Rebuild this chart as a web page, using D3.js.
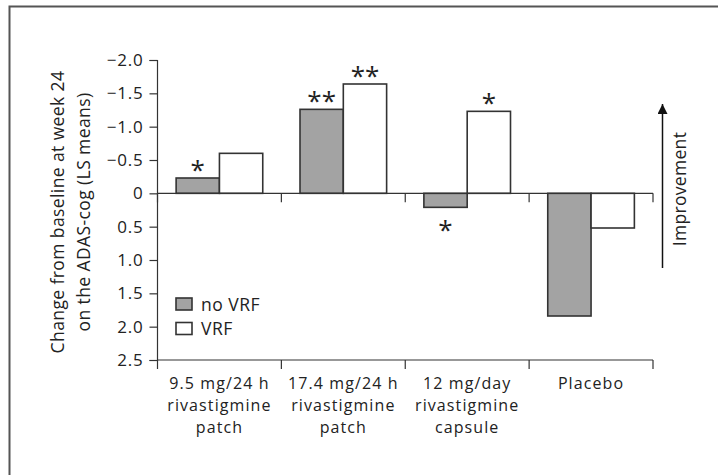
<!DOCTYPE html>
<html>
<head>
<meta charset="utf-8">
<script src="https://cdn.jsdelivr.net/npm/d3@7"></script>
<style>
  html, body { margin: 0; padding: 0; background: #fff; }
  svg { display: block; }
  text { font-family: "Open Sans", "Noto Sans", sans-serif; fill: #222; }
</style>
</head>
<body>
<svg id="chart" width="718" height="475"></svg>
<script>
// ---- data ----
const categories = ["9.5 mg/24 h|rivastigmine|patch", "17.4 mg/24 h|rivastigmine|patch", "12 mg/day|rivastigmine|capsule", "Placebo"];
const seriesNames = ["no VRF", "VRF"];
const noVRF = [-0.23, -1.26, 0.21, 1.84];
const VRF = [-0.60, -1.64, -1.23, 0.52];
const yTicks = [-2.0, -1.5, -1.0, -0.5, 0, 0.5, 1.0, 1.5, 2.0, 2.5];
const yTickLabels = ["\u22122.0", "\u22121.5", "\u22121.0", "\u22120.5", "0", "0.5", "1.0", "1.5", "2.0", "2.5"];
const sigLabels = [
  { cat: 0, series: "no VRF", label: "*" },
  { cat: 1, series: "no VRF", label: "**" },
  { cat: 1, series: "VRF", label: "**" },
  { cat: 2, series: "no VRF", label: "*" },
  { cat: 2, series: "VRF", label: "*" }
];
const yTitle = ["Change from baseline at week 24", "on the ADAS-cog (LS means)"];
const arrowLabel = "Improvement";

// ---- layout ----
const svg = d3.select("#chart");
const colors = { "no VRF": "#a3a3a3", "VRF": "#ffffff" };
const values = { "no VRF": noVRF, "VRF": VRF };
const FS = "17.5px", LS = "0.5px";

// frame
svg.append("path")
  .attr("d", "M9.5,476 L9.5,6.5 L720,6.5")
  .attr("fill", "none").attr("stroke", "#555").attr("stroke-width", 2);

const x0 = d3.scaleBand().domain(d3.range(categories.length)).range([157.5, 653]).paddingInner(0).paddingOuter(0);
const x1 = d3.scaleBand().domain(seriesNames).range([0, x0.bandwidth()]).paddingInner(0).paddingOuter(0.43);
const y = d3.scaleLinear().domain([-2, 2.5]).range([60, 360]);

const axisColor = "#333";

// bars
const g = svg.append("g");
categories.forEach((c, i) => {
  seriesNames.forEach(s => {
    const v = values[s][i];
    g.append("rect")
      .attr("x", x0(i) + x1(s))
      .attr("width", x1.bandwidth())
      .attr("y", Math.min(y(v), y(0)))
      .attr("height", Math.abs(y(v) - y(0)))
      .attr("fill", colors[s])
      .attr("stroke", "#333")
      .attr("stroke-width", 1.6);
  });
});

// y axis
const yAxis = d3.axisLeft(y).tickValues(yTicks).tickSize(8).tickPadding(6)
  .tickFormat((d, i) => yTickLabels[i]);
const ya = svg.append("g").attr("transform", "translate(157.5,0)").call(yAxis);
ya.select(".domain").attr("stroke", axisColor).attr("stroke-width", 1.2).attr("d", "M-8,60.5H0V360.5H-8");
ya.selectAll(".tick line").attr("stroke", axisColor).attr("stroke-width", 1.2);
ya.selectAll(".tick text").style("font-size", "17px").style("letter-spacing", "0.8px")
  .style("font-family", "'Open Sans', sans-serif").attr("fill", "#222");

// bottom axis and zero line with category boundary ticks
const bounds = d3.range(categories.length + 1).map(i => i < categories.length ? x0(i) : x0.range()[1]);
[y(2.5), y(0)].forEach(yy => {
  svg.append("line").attr("x1", 157.5).attr("x2", x0.range()[1]).attr("y1", yy).attr("y2", yy)
    .attr("stroke", axisColor).attr("stroke-width", 1.2);
  bounds.forEach(bx => {
    svg.append("line").attr("x1", bx).attr("x2", bx).attr("y1", yy).attr("y2", yy + 9)
      .attr("stroke", axisColor).attr("stroke-width", 1.2);
  });
});

// category labels
categories.forEach((c, i) => {
  const lines = c.split("|");
  lines.forEach((ln, j) => {
    svg.append("text").attr("text-anchor", "middle")
      .style("font-size", "16px").style("letter-spacing", "1.1px")
      .attr("x", x0(i) + x0.bandwidth() / 2).attr("y", 388.5 + j * 22).text(ln);
  });
});

// significance asterisks
sigLabels.forEach(a => {
  const v = values[a.series][a.cat];
  const cx = x0(a.cat) + x1(a.series) + x1.bandwidth() / 2;
  const above = v <= 0;
  const center = above ? y(v) - 14 : y(v) + 17;
  svg.append("text").attr("text-anchor", "middle")
    .attr("x", cx).attr("y", center + 15)
    .style("font-size", "26px")
    .text(a.label);
});

// legend
seriesNames.forEach((s, i) => {
  const ly = 298 + i * 24.5;
  svg.append("rect").attr("x", 176).attr("y", ly).attr("width", 16).attr("height", 12)
    .attr("fill", colors[s]).attr("stroke", "#333").attr("stroke-width", 1.6);
  svg.append("text").attr("x", 201).attr("y", ly + 12.5).style("font-size", FS).style("letter-spacing", LS).text(s);
});

// y title
const yt = svg.append("text").attr("text-anchor", "middle")
  .attr("transform", "translate(0,212) rotate(-90)").style("font-size", FS).style("letter-spacing", "0.4px");
yTitle.forEach((ln, j) => {
  yt.append("tspan").attr("x", 0).attr("y", 64 + j * 26).text(ln);
});

// improvement arrow
svg.append("defs").append("marker").attr("id", "ah").attr("viewBox", "0 0 10 10")
  .attr("refX", 10).attr("refY", 5).attr("markerWidth", 10).attr("markerHeight", 10)
  .attr("markerUnits", "userSpaceOnUse").attr("orient", "auto")
  .append("path").attr("d", "M0,0 L10,5 L0,10 Z").attr("fill", "#111");
svg.append("line").attr("x1", 662.5).attr("x2", 662.5).attr("y1", 268).attr("y2", 104)
  .attr("stroke", "#111").attr("stroke-width", 1.5).attr("marker-end", "url(#ah)");
svg.append("text").attr("text-anchor", "middle")
  .attr("transform", "translate(686,189) rotate(-90)").style("font-size", FS).style("letter-spacing", "0.3px").text(arrowLabel);
</script>
</body>
</html>
